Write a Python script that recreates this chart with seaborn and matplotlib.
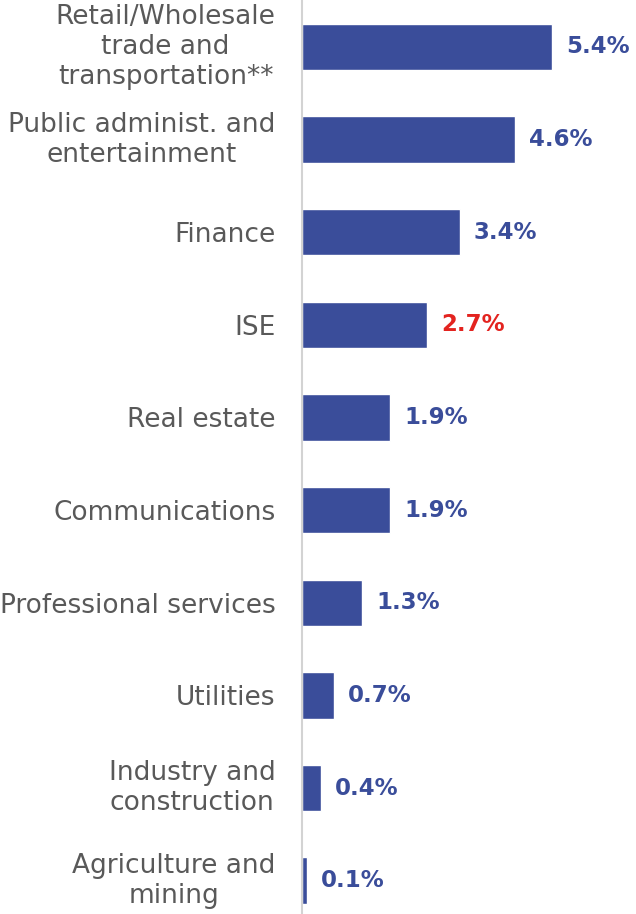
import matplotlib
matplotlib.use("Agg")
import matplotlib.pyplot as plt
import seaborn as sns
import pandas as pd

sectors = [
    "Retail/Wholesale\ntrade and\ntransportation**",
    "Public administ. and\nentertainment",
    "Finance",
    "ISE",
    "Real estate",
    "Communications",
    "Professional services",
    "Utilities",
    "Industry and\nconstruction",
    "Agriculture and\nmining",
]
shares = [5.4, 4.6, 3.4, 2.7, 1.9, 1.9, 1.3, 0.7, 0.4, 0.1]
highlight = "ISE"

BLUE = "#3A4D9A"
RED = "#E3231F"
GREY_TEXT = "#595959"

sns.set_theme(style="white")
plt.rcParams["font.family"] = ["DejaVu Sans"]

df = pd.DataFrame({"sector": sectors, "share": shares})

fig = plt.figure(figsize=(6.36, 9.14), dpi=100)
ax = fig.add_axes([302 / 636, 0, 334 / 636, 1])

sns.barplot(data=df, x="share", y="sector", orient="h", color=BLUE,
            width=0.5, saturation=1, ax=ax)

ax.set_xlim(0, 7.21)
ax.set_ylim(9.36, -0.507)
ax.set_xlabel("")
ax.set_ylabel("")
ax.set_xticks([])

for s in ["top", "right", "bottom"]:
    ax.spines[s].set_visible(False)
ax.spines["left"].set_color("#D3D3D3")
ax.spines["left"].set_linewidth(1.5)

ax.tick_params(axis="y", length=0, pad=19)
for lbl in ax.get_yticklabels():
    lbl.set_fontsize(19)
    lbl.set_color(GREY_TEXT)
    lbl.set_multialignment("center")
    lbl.set_linespacing(1.2)
    if "\n" in lbl.get_text():
        lbl.set_verticalalignment("center")

for i, (name, v) in enumerate(zip(sectors, shares)):
    ax.annotate(f"{v:.1f}%", xy=(v, i), xytext=(10, 0),
                textcoords="offset points", va="center", ha="left",
                fontsize=16.5, fontweight="bold",
                color=RED if name == highlight else BLUE)

fig.savefig("out.png", dpi=100)
